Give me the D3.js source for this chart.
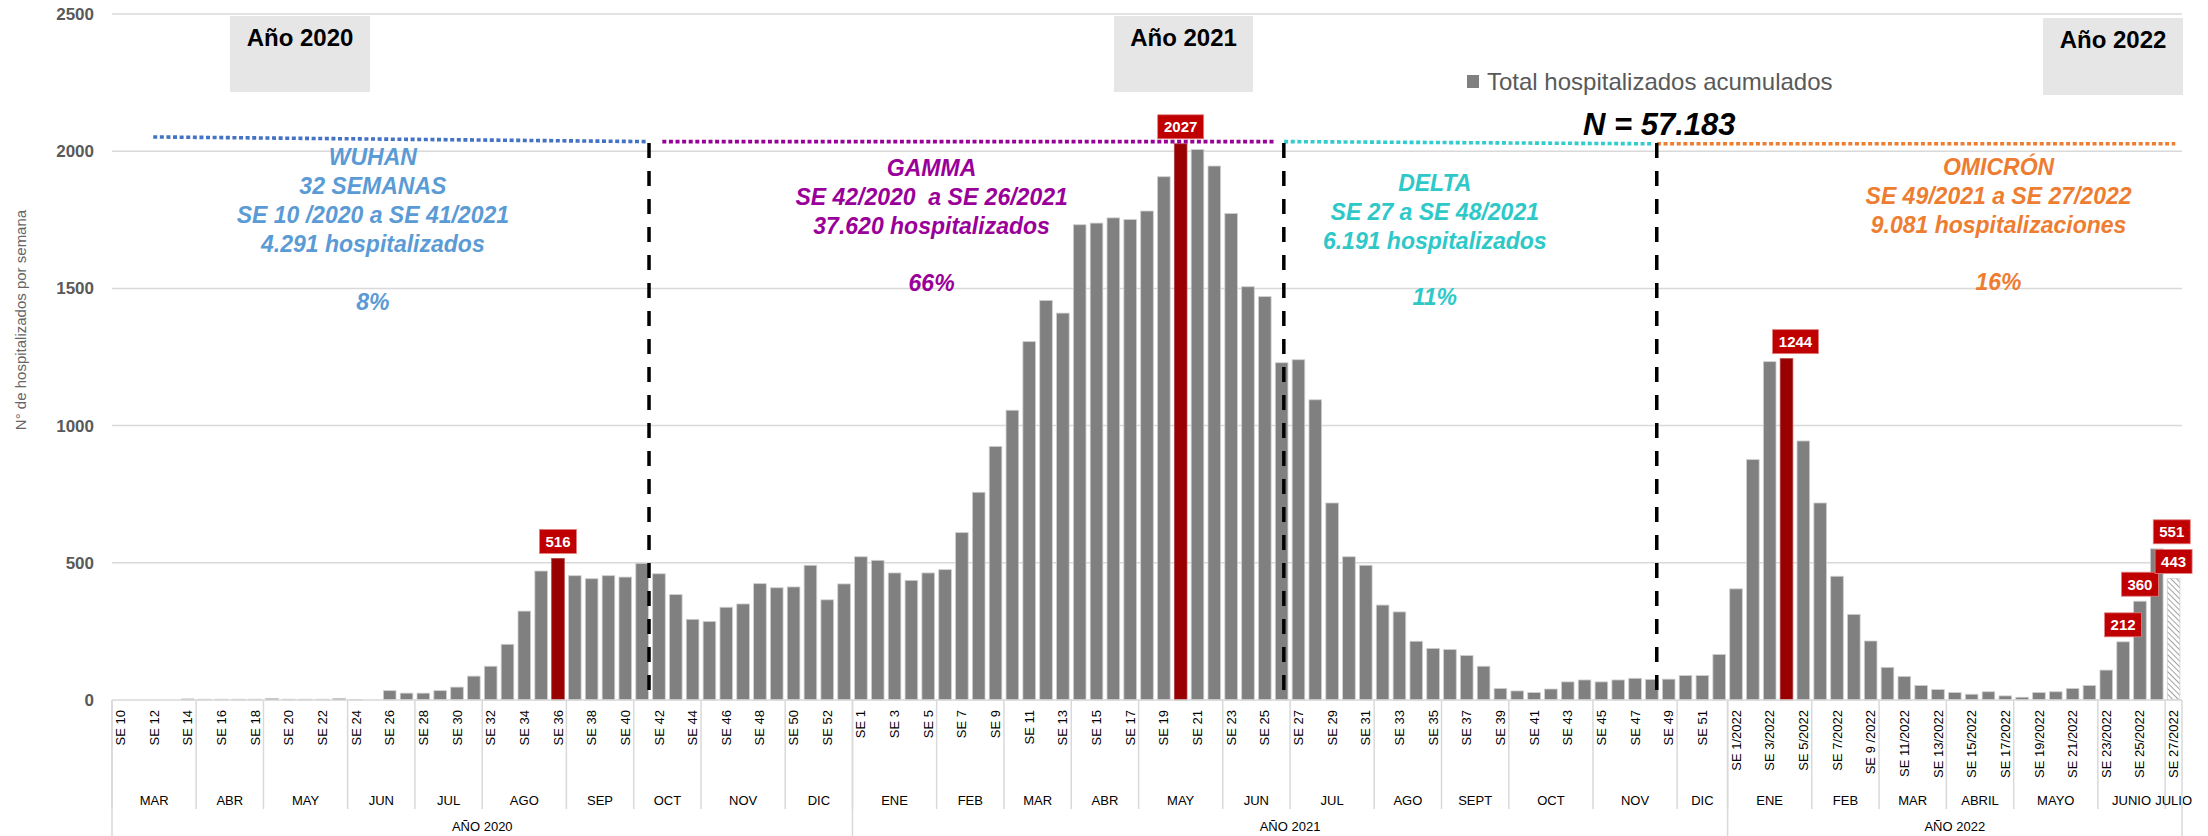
<!DOCTYPE html>
<html>
<head>
<meta charset="UTF-8">
<title>Hospitalizados por semana epidemiologica</title>
<script src="https://cdnjs.cloudflare.com/ajax/libs/d3/7.8.5/d3.min.js"></script>
<style>
  body { margin: 0; background: #fff; }
  svg { display: block; font-family: "Liberation Sans", Arial, sans-serif; }
</style>
</head>
<body>
<script>
// semanas epidemiologicas de cada año
var weeks2020 = d3.range(10, 54);   // SE 10 .. SE 53
var weeks2021 = d3.range(1, 53);    // SE 1 .. SE 52
var weeks2022 = d3.range(1, 28);    // SE 1 .. SE 27

// hospitalizados por semana
var values2020 = [0, 0, 0, 0, 4, 3, 3, 3, 3, 6, 3, 3, 3, 6, 2, 0,
                  34, 25, 25, 34, 47, 87, 123, 203, 324, 470, 516, 453, 442, 453, 448, 498,
                  460, 384, 294, 286, 338, 350, 424, 409, 412, 491, 365, 423];
var values2021 = [522, 509, 463, 436, 463, 475, 610, 757, 924, 1056, 1306, 1456, 1410,
                  1732, 1738, 1757, 1751, 1782, 1907, 2027, 2006, 1946, 1773, 1506, 1470, 1229,
                  1240, 1094, 718, 522, 491, 346, 321, 214, 188, 184, 162, 123, 42, 33, 27,
                  40, 66, 73, 66, 73, 79, 75, 76, 89, 89, 166];
var values2022 = [405, 876, 1233, 1244, 944, 718, 451, 312, 215, 119, 86, 53, 38, 27,
                  21, 30, 15, 10, 27, 30, 42, 53, 109, 212, 360, 551, 443];

// meses y años del eje x
var months = ["MAR", "ABR", "MAY", "JUN", "JUL", "AGO", "SEP", "OCT", "NOV", "DIC",
              "ENE", "FEB", "MAR", "ABR", "MAY", "JUN", "JUL", "AGO", "SEPT", "OCT", "NOV", "DIC",
              "ENE", "FEB", "MAR", "ABRIL", "MAYO", "JUNIO", "JULIO"];
var monthWeeks = [5, 4, 5, 4, 4, 5, 4, 4, 5, 4,
                  5, 4, 4, 4, 5, 4, 5, 4, 4, 5, 5, 3,
                  5, 4, 4, 4, 5, 4, 1];
var years = ["AÑO 2020", "AÑO 2021", "AÑO 2022"];
var yearWeeks = [44, 52, 27];
var yTicks = [0, 500, 1000, 1500, 2000, 2500];

var highlighted = ["2020-36", "2021-20", "2022-4"];
var labelled = ["2020-36", "2021-20", "2022-4", "2022-24", "2022-25", "2022-26", "2022-27"];
var partialWeek = "2022-27";

// build one table
var data = [];
weeks2020.forEach(function(w, i) { data.push({year: 2020, week: w, value: values2020[i]}); });
weeks2021.forEach(function(w, i) { data.push({year: 2021, week: w, value: values2021[i]}); });
weeks2022.forEach(function(w, i) { data.push({year: 2022, week: w, value: values2022[i]}); });
data.forEach(function(d, i) { d.key = d.year + "-" + d.week; d.i = i; });

function weekLabel(d) {
  if (d.year < 2022) return "SE " + d.week;
  if (d.week === 9) return "SE 9 /2022";
  return "SE " + d.week + "/2022";
}

var margin = {top: 14, right: 26, bottom: 136, left: 112},
    width = 2208 - margin.left - margin.right,
    height = 836 - margin.top - margin.bottom;

var x = d3.scaleBand().domain(data.map(function(d) { return d.key; }))
    .range([0, width]).paddingInner(0.25).paddingOuter(0.125);
// fractional week position, for separators and annotations
var xi = d3.scaleLinear().domain([0, data.length]).range([0, width]);
var y = d3.scaleLinear().domain([0, 2500]).range([height, 0]);

var svg = d3.select("body").append("svg")
    .attr("width", width + margin.left + margin.right)
    .attr("height", height + margin.top + margin.bottom);

var defs = svg.append("defs");
var pat = defs.append("pattern").attr("id", "hatch")
    .attr("patternUnits", "userSpaceOnUse").attr("width", 4).attr("height", 4)
    .attr("patternTransform", "rotate(-45)");
pat.append("rect").attr("width", 4).attr("height", 4).attr("fill", "#fff");
pat.append("line").attr("x1", 0).attr("y1", 0).attr("x2", 0).attr("y2", 4)
    .attr("stroke", "#8a8a8a").attr("stroke-width", 1.6);

var g = svg.append("g").attr("transform", "translate(" + margin.left + "," + margin.top + ")");

// gridlines
g.selectAll(".grid").data(yTicks.slice(1)).enter().append("line")
    .attr("x1", 0).attr("x2", width)
    .attr("y1", function(d) { return y(d); }).attr("y2", function(d) { return y(d); })
    .attr("stroke", "#d9d9d9").attr("stroke-width", 1.5);

// y axis
var yAxis = g.append("g").call(d3.axisLeft(y).tickValues(yTicks).tickFormat(d3.format("d"))
    .tickSize(0).tickPadding(18));
yAxis.select(".domain").remove();
yAxis.selectAll("text").attr("font-family", "Liberation Sans, Arial, sans-serif")
    .attr("font-size", 17).attr("font-weight", "bold").attr("fill", "#595959");

svg.append("text")
    .attr("transform", "translate(21,320) rotate(-90)")
    .attr("text-anchor", "middle").attr("dy", "0.35em")
    .attr("font-size", 15).attr("fill", "#666")
    .text("N° de hospitalizados por semana");

// year boxes at the top
var yearBoxes = [{t: "Año 2020", x0: 230, x1: 370, y0: 16, y1: 92},
                 {t: "Año 2021", x0: 1114, x1: 1253, y0: 16, y1: 92},
                 {t: "Año 2022", x0: 2043, x1: 2183, y0: 18, y1: 95}];
yearBoxes.forEach(function(b) {
  svg.append("rect").attr("x", b.x0).attr("y", b.y0)
      .attr("width", b.x1 - b.x0).attr("height", b.y1 - b.y0).attr("fill", "#e6e6e6");
  svg.append("text").attr("x", (b.x0 + b.x1) / 2).attr("y", b.y0 + 30)
      .attr("text-anchor", "middle").attr("font-size", 24).attr("font-weight", "bold")
      .attr("fill", "#000").text(b.t);
});

// bars
g.selectAll(".bar").data(data).enter().append("rect")
    .attr("class", "bar")
    .attr("x", function(d) { return x(d.key); })
    .attr("width", x.bandwidth())
    .attr("y", function(d) { return y(d.value); })
    .attr("height", function(d) { return height - y(d.value); })
    .attr("fill", function(d) {
      if (d.key === partialWeek) return "url(#hatch)";
      return highlighted.indexOf(d.key) >= 0 ? "#990000" : "#808080";
    })
    .attr("stroke", function(d) { return highlighted.indexOf(d.key) >= 0 ? "#b04040" : "#cfcfcf"; })
    .attr("stroke-width", 0.8);

// variant periods: dotted line on top, dashed separators
var periods = [
  {color: "#4472C4", a: 2.45, b: 31.8, v0: 2052, v1: 2035},
  {color: "#990099", a: 32.7, b: 69.1, v0: 2035, v1: 2035},
  {color: "#33CCCC", a: 69.65, b: 91.5, v0: 2035, v1: 2027},
  {color: "#ED7D31", a: 91.8, b: 122.6, v0: 2027, v1: 2027}
];
g.selectAll(".period").data(periods).enter().append("line")
    .attr("x1", function(d) { return xi(d.a); }).attr("x2", function(d) { return xi(d.b); })
    .attr("y1", function(d) { return y(d.v0); }).attr("y2", function(d) { return y(d.v1); })
    .attr("stroke", function(d) { return d.color; })
    .attr("stroke-width", 3.6).attr("stroke-dasharray", "4 2.6");

var cuts = [31.91, 69.63, 91.79];
g.selectAll(".cut").data(cuts).enter().append("line")
    .attr("x1", function(d) { return xi(d); }).attr("x2", function(d) { return xi(d); })
    .attr("y1", y(2030)).attr("y2", y(30))
    .attr("stroke", "#000").attr("stroke-width", 3.5).attr("stroke-dasharray", "15 13");

// variant texts
var notes = [
  {color: "#5B9BD5", at: 15.5, top: 157, pct: 302,
   lines: ["WUHAN", "32 SEMANAS", "SE 10 /2020 a SE 41/2021", "4.291 hospitalizados"], p: "8%"},
  {color: "#990099", at: 48.7, top: 168, pct: 283,
   lines: ["GAMMA", "SE 42/2020  a SE 26/2021", "37.620 hospitalizados"], p: "66%"},
  {color: "#2EC8C8", at: 78.6, top: 183, pct: 297,
   lines: ["DELTA", "SE 27 a SE 48/2021", "6.191 hospitalizados"], p: "11%"},
  {color: "#ED7D31", at: 112.1, top: 167, pct: 282,
   lines: ["OMICRÓN", "SE 49/2021 a SE 27/2022", "9.081 hospitalizaciones"], p: "16%"}
];
notes.forEach(function(n) {
  var cx = margin.left + xi(n.at);
  var t = svg.append("text").attr("text-anchor", "middle").attr("font-size", 23)
      .attr("font-weight", "bold").attr("font-style", "italic").attr("fill", n.color)
      .style("white-space", "pre");
  n.lines.forEach(function(l, k) {
    t.append("tspan").attr("x", cx).attr("y", n.top + 8 + k * 29).text(l);
  });
  svg.append("text").attr("x", cx).attr("y", n.pct + 8).attr("text-anchor", "middle")
      .attr("font-size", 23).attr("font-weight", "bold").attr("font-style", "italic")
      .attr("fill", n.color).text(n.p);
});

// legend and total
svg.append("rect").attr("x", 1467).attr("y", 75).attr("width", 12).attr("height", 13).attr("fill", "#808080");
svg.append("text").attr("x", 1487).attr("y", 82).attr("dy", "0.35em")
    .attr("font-size", 24).attr("fill", "#595959").text("Total hospitalizados acumulados");
svg.append("text").attr("x", 1583).attr("y", 135)
    .attr("font-size", 31).attr("font-weight", "bold").attr("font-style", "italic")
    .attr("fill", "#000").text("N = 57.183");

// value labels
var labelShift = {"2022-4": 9, "2022-26": 15};
var lab = g.selectAll(".lab").data(data.filter(function(d) { return labelled.indexOf(d.key) >= 0; }))
    .enter().append("g")
    .attr("transform", function(d) {
      var cx = x(d.key) + x.bandwidth() / 2 + (labelShift[d.key] || 0);
      return "translate(" + cx + "," + (y(d.value) - 5) + ")";
    });
lab.append("rect")
    .attr("x", function(d) { return String(d.value).length > 3 ? -23 : -18.5; })
    .attr("width", function(d) { return String(d.value).length > 3 ? 46 : 37; })
    .attr("y", -24).attr("height", 24)
    .attr("fill", "#c00000").attr("stroke", "#e08080").attr("stroke-width", 0.8);
lab.append("text").attr("y", -12).attr("dy", "0.36em").attr("text-anchor", "middle")
    .attr("font-size", 15).attr("font-weight", "bold").attr("fill", "#fff")
    .text(function(d) { return d.value; });

// x axis: weeks
var xAxis = g.append("g").attr("transform", "translate(0," + height + ")")
    .call(d3.axisBottom(x)
      .tickValues(data.filter(function(d) { return d.i % 2 === 0; }).map(function(d) { return d.key; }))
      .tickFormat(function(k) { return weekLabel(data.find(function(d) { return d.key === k; })); })
      .tickSize(0));
xAxis.select(".domain").remove();
xAxis.selectAll("text")
    .attr("font-family", "Liberation Sans, Arial, sans-serif")
    .attr("font-size", 13).attr("fill", "#000")
    .attr("y", 0).attr("x", -10).attr("dy", "0.35em")
    .attr("transform", "rotate(-90)")
    .style("text-anchor", "end")
    .style("white-space", "pre");

var axisColor = "#d9d9d9";
g.append("line").attr("x1", 0).attr("x2", width).attr("y1", height).attr("y2", height)
    .attr("stroke", axisColor).attr("stroke-width", 1.5);

// months row
var start = 0;
months.forEach(function(m, k) {
  var a = start, b = start + monthWeeks[k];
  g.append("line").attr("x1", xi(a)).attr("x2", xi(a)).attr("y1", height).attr("y2", height + 109)
      .attr("stroke", axisColor).attr("stroke-width", 1.5);
  g.append("text").attr("x", xi((a + b) / 2)).attr("y", height + 105)
      .attr("text-anchor", "middle").attr("font-size", 13).attr("fill", "#000").text(m);
  start = b;
});

// years row
start = 0;
years.forEach(function(yr, k) {
  var a = start, b = start + yearWeeks[k];
  g.append("line").attr("x1", xi(a)).attr("x2", xi(a)).attr("y1", height).attr("y2", height + 136)
      .attr("stroke", axisColor).attr("stroke-width", 1.5);
  g.append("text").attr("x", xi((a + b) / 2)).attr("y", height + 131)
      .attr("text-anchor", "middle").attr("font-size", 13).attr("fill", "#000").text(yr);
  start = b;
});
g.append("line").attr("x1", width).attr("x2", width).attr("y1", height).attr("y2", height + 136)
    .attr("stroke", axisColor).attr("stroke-width", 1.5);
</script>
</body>
</html>
